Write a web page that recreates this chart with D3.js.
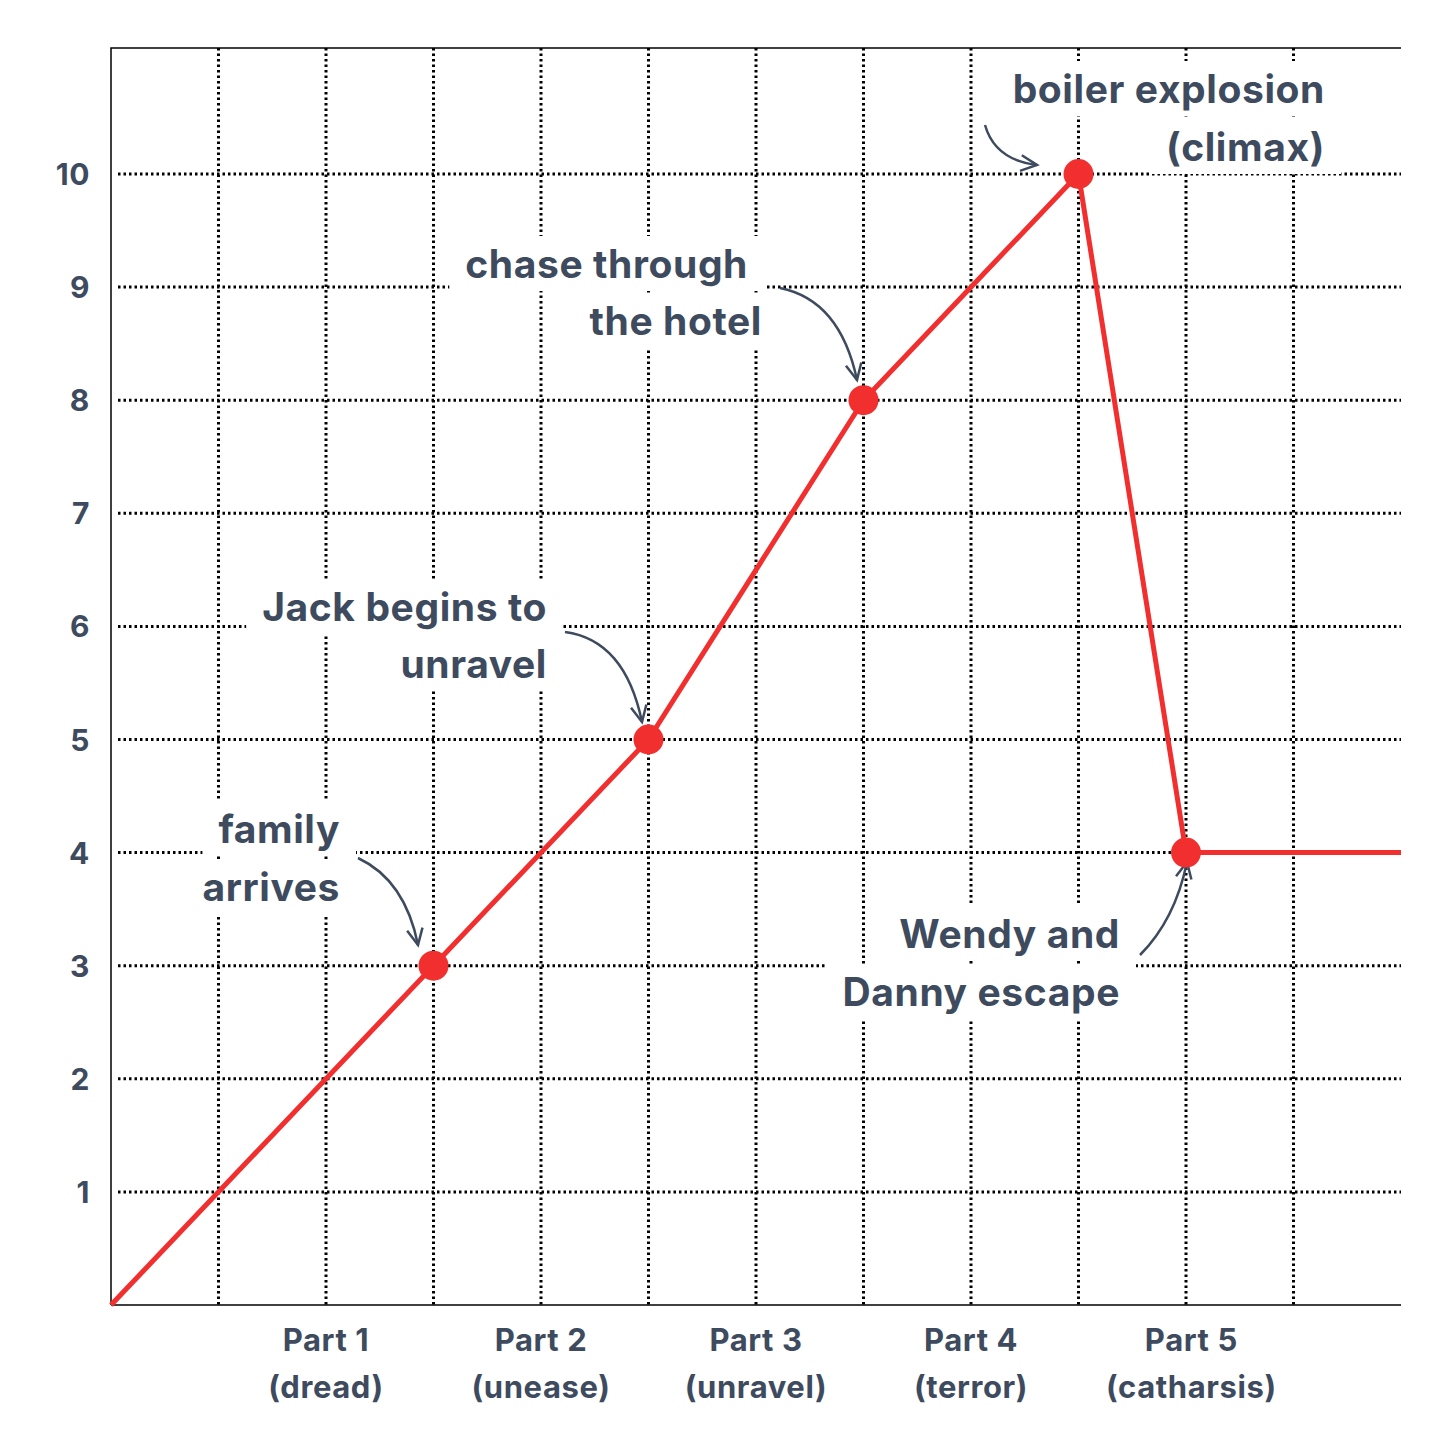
<!doctype html>
<html>
<head>
<script src="https://cdnjs.cloudflare.com/ajax/libs/d3/7.8.5/d3.min.js"></script>
<style>
body { margin:0; background:#fff; }
text { font-family: Inter, "Open Sans", sans-serif; font-weight:700; fill:#3e4b5e; letter-spacing:0.6px; }
</style>
</head>
<body>
<div id="chart"></div>
<script>
var xs = [0, 3, 5, 7, 9, 10, 12];
var ys = [0, 3, 5, 8, 10, 4, 4];
var dots = [1, 2, 3, 4, 5];
var yTicks = [1,2,3,4,5,6,7,8,9,10];
var parts = [["Part 1","(dread)",2],["Part 2","(unease)",4],["Part 3","(unravel)",6],["Part 4","(terror)",8],["Part 5","(catharsis)",10.05]];
var notes = [
  {lines:["family","arrives"], tx:340, ty:[830,888], arrow:[[358,858],[405,880],[418,945]]},
  {lines:["Jack begins to","unravel"], tx:547, ty:[608,665], arrow:[[565,632],[625,640],[642,722]]},
  {lines:["chase through","the hotel"], tx:[748,762], ty:[265,322], arrow:[[780,288],[840,300],[857,380]]},
  {lines:["boiler explosion","(climax)"], tx:[1325,1325], ty:[90,148], arrow:[[985,125],[995,160],[1037,165]]},
  {lines:["Wendy and","Danny escape"], tx:1120, ty:[935,993], arrow:[[1140,955],[1175,920],[1187,862]]}
];

var W = 1456, H = 1456;
var svg = d3.select("#chart").append("svg").attr("width", W).attr("height", H);
var x = d3.scaleLinear().domain([0,12]).range([111,1401]);
var y = d3.scaleLinear().domain([0,10]).range([1305,174]);

// grid
svg.append("g").selectAll("line").data(d3.range(1,12)).enter().append("line")
  .attr("x1", d=>x(d)).attr("x2", d=>x(d)).attr("y1", 48).attr("y2", 1305)
  .attr("stroke","#000").attr("stroke-width",3).attr("stroke-dasharray","2.5,3");
svg.append("g").selectAll("line").data(yTicks).enter().append("line")
  .attr("x1", 118).attr("x2", 1401).attr("y1", d=>y(d)).attr("y2", d=>y(d))
  .attr("stroke","#000").attr("stroke-width",3).attr("stroke-dasharray","2.5,3");
// frame
svg.append("path").attr("d","M111,1305V48H1401").attr("fill","none").attr("stroke","#000").attr("stroke-width",1.5);
svg.append("line").attr("x1",111).attr("x2",1401).attr("y1",1305).attr("y2",1305).attr("stroke","#000").attr("stroke-width",1.5);

// y labels
svg.append("g").selectAll("text").data(yTicks).enter().append("text")
  .attr("x", 90).attr("y", d=>y(d)+11).attr("text-anchor","end").attr("font-size",30).text(d=>d);

// parts
parts.forEach(function(p){
  var g = svg.append("g").attr("text-anchor","middle").attr("font-size",31);
  g.append("text").attr("x", x(p[2])).attr("y", 1351).text(p[0]);
  g.append("text").attr("x", x(p[2])).attr("y", 1398).text(p[1]);
});

// annotations (white backing)
notes.forEach(function(n){
  var g = svg.append("g").attr("font-size",39).attr("text-anchor","end");
  var t = n.lines.map(function(l,i){
    var tx = Array.isArray(n.tx) ? n.tx[i] : n.tx;
    return g.append("text").attr("x",tx).attr("y",n.ty[i]+13).text(l);
  });
  t.map(function(s){ return s.node().getBBox(); }).forEach(function(b){
    g.insert("rect","text").attr("x",b.x-16).attr("y",b.y-4).attr("width",b.width+32).attr("height",b.height+8).attr("fill","#fff");
  });
  var a = n.arrow;
  svg.append("path").attr("d","M"+a[0]+"Q"+a[1]+" "+a[2]).attr("fill","none")
    .attr("stroke","#3e4b5e").attr("stroke-width",2.5);
  var ang = Math.atan2(a[2][1]-a[1][1], a[2][0]-a[1][0]);
  var L = 18;
  svg.append("path").attr("d","M"+(a[2][0]-L*Math.cos(ang-0.45))+","+(a[2][1]-L*Math.sin(ang-0.45))+
    "L"+a[2]+"L"+(a[2][0]-L*Math.cos(ang+0.45))+","+(a[2][1]-L*Math.sin(ang+0.45)))
    .attr("fill","none").attr("stroke","#3e4b5e").attr("stroke-width",2.5);
});

// line
var pts = xs.map((d,i)=>[d, ys[i]]);
svg.append("path").datum(pts).attr("d", d3.line().x(d=>x(d[0])).y(d=>y(d[1])))
  .attr("fill","none").attr("stroke","#f22f2f").attr("stroke-width",5);
svg.selectAll("circle.dot").data(dots).enter().append("circle")
  .attr("cx", i=>x(xs[i])).attr("cy", i=>y(ys[i])).attr("r",15).attr("fill","#f22f2f");
</script>
</body>
</html>
